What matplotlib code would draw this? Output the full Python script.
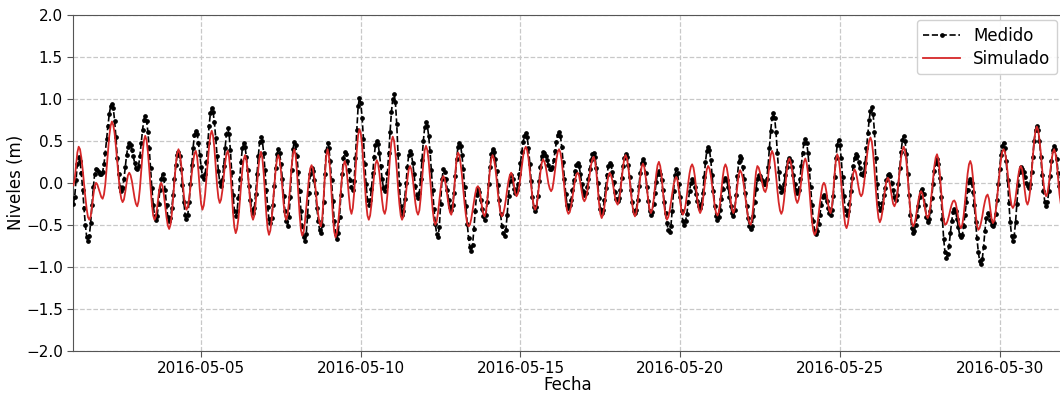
import matplotlib
matplotlib.use("Agg")
import matplotlib.pyplot as plt
import matplotlib.dates as mdates
import pandas as pd

# Hourly water levels (m), May 2016, starting 2016-05-01 00:00
medido = [
    -0.25, -0.17, 0.03, 0.23, 0.31, 0.26, 0.12, -0.08, -0.30, -0.50, -0.64, -0.69, -0.63, -0.48, -0.27, -0.05, 0.10, 0.16, 0.15, 0.13, 0.11, 0.10, 0.13, 0.22,
    0.36, 0.52, 0.68, 0.82, 0.91, 0.94, 0.89, 0.74, 0.54, 0.30, 0.10, -0.05, -0.10, -0.06, 0.04, 0.19, 0.33, 0.43, 0.47, 0.45, 0.39, 0.32, 0.24, 0.18,
    0.16, 0.20, 0.32, 0.48, 0.63, 0.75, 0.79, 0.74, 0.61, 0.41, 0.18, -0.06, -0.26, -0.39, -0.44, -0.39, -0.25, -0.09, 0.05, 0.10, 0.05, -0.09, -0.27, -0.41,
    -0.46, -0.42, -0.30, -0.14, 0.05, 0.21, 0.33, 0.37, 0.32, 0.17, -0.03, -0.23, -0.38, -0.43, -0.38, -0.23, -0.02, 0.21, 0.42, 0.57, 0.62, 0.58, 0.48, 0.33,
    0.19, 0.08, 0.04, 0.10, 0.25, 0.47, 0.68, 0.83, 0.89, 0.84, 0.72, 0.53, 0.32, 0.14, 0.01, -0.04, 0.03, 0.20, 0.41, 0.58, 0.65, 0.58, 0.39, 0.13,
    -0.14, -0.33, -0.40, -0.34, -0.18, 0.04, 0.25, 0.41, 0.47, 0.43, 0.31, 0.15, -0.04, -0.20, -0.32, -0.36, -0.30, -0.13, 0.10, 0.32, 0.49, 0.55, 0.50, 0.36,
    0.15, -0.08, -0.29, -0.43, -0.48, -0.42, -0.26, -0.04, 0.18, 0.34, 0.40, 0.35, 0.23, 0.05, -0.16, -0.34, -0.46, -0.51, -0.41, -0.17, 0.15, 0.40, 0.49, 0.45,
    0.32, 0.13, -0.10, -0.33, -0.52, -0.65, -0.69, -0.61, -0.39, -0.12, 0.10, 0.18, 0.14, 0.03, -0.12, -0.30, -0.45, -0.56, -0.60, -0.50, -0.23, 0.11, 0.38, 0.48,
    0.42, 0.26, 0.03, -0.22, -0.45, -0.61, -0.67, -0.60, -0.41, -0.15, 0.11, 0.30, 0.37, 0.34, 0.26, 0.15, 0.03, -0.05, -0.08, 0.02, 0.30, 0.63, 0.91, 1.01,
    0.95, 0.77, 0.52, 0.23, -0.02, -0.20, -0.26, -0.21, -0.07, 0.12, 0.31, 0.45, 0.50, 0.46, 0.35, 0.20, 0.05, -0.06, -0.10, -0.04, 0.12, 0.35, 0.61, 0.84,
    1.00, 1.06, 0.96, 0.70, 0.34, -0.02, -0.28, -0.38, -0.33, -0.19, 0.00, 0.19, 0.33, 0.38, 0.34, 0.24, 0.10, -0.04, -0.14, -0.18, -0.12, 0.05, 0.27, 0.50,
    0.66, 0.72, 0.68, 0.56, 0.38, 0.15, -0.08, -0.31, -0.49, -0.61, -0.65, -0.53, -0.25, 0.04, 0.16, 0.13, 0.04, -0.08, -0.20, -0.29, -0.32, -0.27, -0.12, 0.08,
    0.28, 0.43, 0.48, 0.44, 0.33, 0.16, -0.05, -0.28, -0.49, -0.66, -0.77, -0.81, -0.74, -0.55, -0.33, -0.14, -0.07, -0.11, -0.20, -0.31, -0.40, -0.44, -0.38, -0.23,
    -0.02, 0.19, 0.34, 0.40, 0.37, 0.28, 0.14, -0.03, -0.20, -0.37, -0.51, -0.60, -0.63, -0.56, -0.38, -0.16, 0.02, 0.09, 0.04, -0.07, -0.12, -0.09, -0.02, 0.10,
    0.24, 0.37, 0.49, 0.56, 0.59, 0.54, 0.42, 0.23, 0.02, -0.17, -0.29, -0.34, -0.29, -0.16, 0.02, 0.19, 0.32, 0.37, 0.36, 0.32, 0.27, 0.21, 0.17, 0.16,
    0.19, 0.27, 0.38, 0.49, 0.57, 0.60, 0.56, 0.43, 0.25, 0.05, -0.13, -0.26, -0.30, -0.27, -0.20, -0.09, 0.03, 0.14, 0.21, 0.24, 0.20, 0.11, -0.01, -0.10,
    -0.14, -0.12, -0.05, 0.05, 0.17, 0.27, 0.34, 0.36, 0.31, 0.18, 0.00, -0.18, -0.31, -0.36, -0.32, -0.21, -0.06, 0.09, 0.20, 0.24, 0.21, 0.13, 0.01, -0.11,
    -0.19, -0.22, -0.18, -0.08, 0.06, 0.20, 0.30, 0.34, 0.31, 0.21, 0.07, -0.09, -0.23, -0.33, -0.36, -0.32, -0.20, -0.04, 0.12, 0.24, 0.28, 0.24, 0.12, -0.05,
    -0.22, -0.34, -0.38, -0.35, -0.25, -0.12, 0.01, 0.11, 0.14, 0.11, 0.03, -0.09, -0.23, -0.36, -0.48, -0.56, -0.59, -0.52, -0.33, -0.10, 0.09, 0.16, 0.12, -0.01,
    -0.17, -0.34, -0.46, -0.50, -0.46, -0.37, -0.23, -0.10, 0.00, 0.04, 0.02, -0.05, -0.13, -0.22, -0.28, -0.30, -0.25, -0.12, 0.07, 0.25, 0.38, 0.43, 0.39, 0.27,
    0.09, -0.10, -0.28, -0.40, -0.44, -0.41, -0.32, -0.19, -0.07, 0.03, 0.06, 0.03, -0.05, -0.17, -0.28, -0.36, -0.39, -0.32, -0.15, 0.08, 0.25, 0.32, 0.29, 0.19,
    0.05, -0.12, -0.28, -0.42, -0.52, -0.55, -0.51, -0.39, -0.23, -0.07, 0.05, 0.09, 0.08, 0.05, 0.02, -0.01, -0.02, 0.04, 0.19, 0.41, 0.62, 0.77, 0.83, 0.77,
    0.60, 0.36, 0.13, -0.05, -0.11, -0.08, -0.01, 0.09, 0.19, 0.26, 0.29, 0.26, 0.19, 0.09, -0.02, -0.09, -0.12, -0.08, 0.04, 0.20, 0.36, 0.48, 0.52, 0.48,
    0.36, 0.17, -0.05, -0.26, -0.45, -0.57, -0.61, -0.58, -0.49, -0.38, -0.26, -0.17, -0.14, -0.16, -0.22, -0.30, -0.36, -0.38, -0.32, -0.16, 0.07, 0.29, 0.45, 0.51,
    0.45, 0.29, 0.07, -0.16, -0.32, -0.38, -0.34, -0.25, -0.10, 0.06, 0.20, 0.30, 0.34, 0.32, 0.25, 0.18, 0.11, 0.09, 0.13, 0.24, 0.41, 0.59, 0.75, 0.86,
    0.90, 0.82, 0.60, 0.29, -0.02, -0.24, -0.32, -0.30, -0.24, -0.15, -0.06, 0.03, 0.09, 0.11, 0.08, 0.00, -0.09, -0.17, -0.20, -0.15, -0.01, 0.18, 0.37, 0.51,
    0.56, 0.50, 0.34, 0.11, -0.15, -0.38, -0.54, -0.60, -0.57, -0.50, -0.39, -0.28, -0.17, -0.10, -0.07, -0.13, -0.27, -0.41, -0.47, -0.43, -0.33, -0.18, -0.01, 0.14,
    0.24, 0.28, 0.22, 0.06, -0.17, -0.43, -0.67, -0.83, -0.89, -0.85, -0.75, -0.60, -0.46, -0.35, -0.31, -0.34, -0.43, -0.53, -0.62, -0.65, -0.62, -0.52, -0.38, -0.23,
    -0.09, 0.01, 0.04, 0.00, -0.11, -0.27, -0.47, -0.66, -0.82, -0.93, -0.97, -0.91, -0.76, -0.57, -0.42, -0.36, -0.38, -0.44, -0.50, -0.52, -0.48, -0.37, -0.21, -0.02,
    0.17, 0.33, 0.44, 0.48, 0.42, 0.26, 0.03, -0.24, -0.47, -0.63, -0.69, -0.63, -0.47, -0.25, -0.03, 0.13, 0.19, 0.17, 0.13, 0.07, 0.00, -0.04, -0.06, -0.01,
    0.13, 0.31, 0.50, 0.63, 0.68, 0.63, 0.50, 0.31, 0.09, -0.10, -0.23, -0.28, -0.23, -0.10, 0.08, 0.26, 0.39, 0.44, 0.40, 0.28, 0.12, -0.04, -0.16, -0.20,
]

simulado = [
    -0.03, 0.04, 0.20, 0.36, 0.43, 0.40, 0.30, 0.16, -0.01, -0.17, -0.31, -0.41, -0.44, -0.40, -0.29, -0.15, -0.04, 0.00, -0.02, -0.07, -0.12, -0.17, -0.19, -0.14,
    -0.02, 0.17, 0.37, 0.56, 0.68, 0.73, 0.69, 0.59, 0.43, 0.25, 0.07, -0.09, -0.19, -0.23, -0.20, -0.11, 0.00, 0.09, 0.12, 0.09, 0.02, -0.08, -0.18, -0.25,
    -0.28, -0.22, -0.07, 0.14, 0.35, 0.50, 0.56, 0.51, 0.37, 0.17, -0.05, -0.25, -0.39, -0.44, -0.40, -0.29, -0.15, -0.04, 0.00, -0.04, -0.14, -0.28, -0.41, -0.51,
    -0.55, -0.50, -0.37, -0.18, 0.03, 0.22, 0.35, 0.40, 0.35, 0.22, 0.04, -0.14, -0.27, -0.32, -0.29, -0.19, -0.05, 0.11, 0.25, 0.35, 0.38, 0.31, 0.14, -0.08,
    -0.25, -0.32, -0.27, -0.14, 0.05, 0.25, 0.44, 0.57, 0.62, 0.56, 0.41, 0.19, -0.03, -0.18, -0.24, -0.20, -0.09, 0.07, 0.23, 0.34, 0.38, 0.31, 0.14, -0.11,
    -0.36, -0.53, -0.60, -0.55, -0.43, -0.24, -0.03, 0.16, 0.28, 0.33, 0.28, 0.14, -0.06, -0.25, -0.39, -0.44, -0.39, -0.24, -0.04, 0.17, 0.32, 0.37, 0.30, 0.12,
    -0.13, -0.37, -0.55, -0.62, -0.57, -0.44, -0.25, -0.04, 0.15, 0.28, 0.33, 0.28, 0.14, -0.06, -0.25, -0.39, -0.44, -0.38, -0.23, -0.02, 0.19, 0.34, 0.40, 0.33,
    0.14, -0.12, -0.37, -0.56, -0.63, -0.59, -0.47, -0.30, -0.12, 0.05, 0.17, 0.21, 0.17, 0.07, -0.07, -0.24, -0.38, -0.48, -0.52, -0.43, -0.20, 0.08, 0.31, 0.40,
    0.33, 0.14, -0.13, -0.39, -0.58, -0.65, -0.60, -0.48, -0.30, -0.09, 0.09, 0.21, 0.26, 0.20, 0.04, -0.15, -0.31, -0.37, -0.30, -0.12, 0.14, 0.39, 0.57, 0.64,
    0.59, 0.44, 0.22, -0.02, -0.24, -0.39, -0.44, -0.39, -0.26, -0.09, 0.09, 0.22, 0.27, 0.23, 0.11, -0.05, -0.21, -0.33, -0.37, -0.31, -0.14, 0.09, 0.32, 0.49,
    0.55, 0.50, 0.36, 0.17, -0.06, -0.25, -0.39, -0.44, -0.40, -0.28, -0.12, 0.04, 0.16, 0.20, 0.16, 0.06, -0.09, -0.24, -0.34, -0.38, -0.33, -0.18, 0.03, 0.24,
    0.39, 0.44, 0.39, 0.26, 0.07, -0.13, -0.32, -0.45, -0.50, -0.46, -0.36, -0.21, -0.07, 0.04, 0.08, 0.05, -0.04, -0.15, -0.27, -0.35, -0.38, -0.31, -0.13, 0.11,
    0.29, 0.36, 0.33, 0.23, 0.09, -0.08, -0.25, -0.39, -0.49, -0.52, -0.50, -0.43, -0.33, -0.23, -0.13, -0.06, -0.04, -0.07, -0.16, -0.28, -0.37, -0.40, -0.35, -0.22,
    -0.04, 0.15, 0.28, 0.33, 0.29, 0.19, 0.05, -0.12, -0.26, -0.36, -0.40, -0.37, -0.30, -0.20, -0.08, 0.02, 0.09, 0.12, 0.08, -0.02, -0.12, -0.16, -0.13, -0.05,
    0.07, 0.20, 0.32, 0.40, 0.43, 0.39, 0.29, 0.14, -0.03, -0.18, -0.28, -0.32, -0.28, -0.17, -0.02, 0.13, 0.24, 0.28, 0.25, 0.19, 0.09, -0.01, -0.07, -0.10,
    -0.07, 0.03, 0.15, 0.28, 0.37, 0.40, 0.36, 0.26, 0.10, -0.07, -0.23, -0.33, -0.37, -0.35, -0.28, -0.18, -0.07, 0.03, 0.10, 0.12, 0.09, 0.00, -0.10, -0.19,
    -0.22, -0.19, -0.12, -0.01, 0.10, 0.21, 0.28, 0.31, 0.26, 0.13, -0.06, -0.24, -0.37, -0.42, -0.38, -0.29, -0.15, -0.02, 0.08, 0.12, 0.09, 0.03, -0.07, -0.17,
    -0.23, -0.26, -0.22, -0.11, 0.04, 0.18, 0.29, 0.33, 0.29, 0.19, 0.05, -0.12, -0.26, -0.36, -0.40, -0.36, -0.24, -0.09, 0.07, 0.19, 0.23, 0.19, 0.08, -0.07,
    -0.21, -0.32, -0.36, -0.32, -0.21, -0.06, 0.10, 0.21, 0.25, 0.20, 0.08, -0.10, -0.27, -0.39, -0.44, -0.41, -0.34, -0.24, -0.13, -0.03, 0.04, 0.07, 0.03, -0.09,
    -0.22, -0.34, -0.38, -0.35, -0.27, -0.15, -0.01, 0.11, 0.19, 0.22, 0.18, 0.08, -0.07, -0.22, -0.32, -0.36, -0.32, -0.22, -0.08, 0.06, 0.16, 0.20, 0.17, 0.09,
    -0.03, -0.16, -0.28, -0.36, -0.39, -0.35, -0.24, -0.09, 0.07, 0.18, 0.22, 0.18, 0.08, -0.07, -0.22, -0.32, -0.36, -0.31, -0.18, -0.03, 0.10, 0.15, 0.12, 0.06,
    -0.05, -0.18, -0.30, -0.41, -0.48, -0.50, -0.43, -0.26, -0.04, 0.13, 0.20, 0.18, 0.12, 0.05, -0.03, -0.09, -0.11, -0.06, 0.06, 0.21, 0.33, 0.38, 0.34, 0.24,
    0.09, -0.08, -0.23, -0.33, -0.37, -0.33, -0.21, -0.04, 0.13, 0.25, 0.29, 0.25, 0.16, 0.03, -0.11, -0.20, -0.24, -0.20, -0.11, 0.03, 0.16, 0.25, 0.29, 0.24,
    0.12, -0.06, -0.27, -0.45, -0.57, -0.62, -0.59, -0.50, -0.38, -0.24, -0.12, -0.03, 0.00, -0.03, -0.12, -0.24, -0.33, -0.36, -0.29, -0.12, 0.10, 0.27, 0.34, 0.30,
    0.17, 0.00, -0.20, -0.37, -0.50, -0.54, -0.49, -0.37, -0.19, -0.02, 0.11, 0.16, 0.13, 0.05, -0.05, -0.13, -0.16, -0.13, -0.03, 0.11, 0.27, 0.41, 0.50, 0.54,
    0.49, 0.35, 0.15, -0.08, -0.28, -0.42, -0.47, -0.43, -0.34, -0.21, -0.07, 0.02, 0.06, 0.03, -0.06, -0.16, -0.25, -0.28, -0.24, -0.15, 0.00, 0.15, 0.30, 0.39,
    0.43, 0.38, 0.25, 0.06, -0.15, -0.34, -0.47, -0.52, -0.49, -0.42, -0.31, -0.21, -0.13, -0.10, -0.13, -0.21, -0.31, -0.39, -0.42, -0.38, -0.28, -0.12, 0.04, 0.20,
    0.30, 0.34, 0.28, 0.13, -0.08, -0.29, -0.44, -0.50, -0.49, -0.45, -0.39, -0.32, -0.26, -0.22, -0.21, -0.24, -0.32, -0.43, -0.51, -0.54, -0.50, -0.39, -0.23, -0.05,
    0.11, 0.22, 0.26, 0.21, 0.06, -0.15, -0.36, -0.51, -0.56, -0.54, -0.48, -0.40, -0.30, -0.22, -0.16, -0.14, -0.19, -0.31, -0.43, -0.48, -0.45, -0.35, -0.21, -0.04,
    0.13, 0.27, 0.37, 0.40, 0.37, 0.27, 0.13, -0.03, -0.17, -0.27, -0.30, -0.27, -0.18, -0.05, 0.08, 0.17, 0.20, 0.16, 0.04, -0.10, -0.22, -0.26, -0.21, -0.09,
    0.10, 0.31, 0.50, 0.62, 0.67, 0.63, 0.51, 0.35, 0.16, 0.00, -0.12, -0.16, -0.12, -0.02, 0.12, 0.26, 0.36, 0.40, 0.35, 0.23, 0.05, -0.13, -0.25, -0.30,
]

fechas = pd.date_range("2016-05-01 00:00", periods=len(medido), freq="h")
tick_fechas = pd.to_datetime(["2016-05-05", "2016-05-10", "2016-05-15",
                              "2016-05-20", "2016-05-25", "2016-05-30"])
y_ticks = [-2.0, -1.5, -1.0, -0.5, 0.0, 0.5, 1.0, 1.5, 2.0]

fig = plt.figure(figsize=(10.6, 3.95), dpi=100)
ax = fig.add_axes([0.0692, 0.1122, 0.9328, 0.8500])

ax.plot(fechas, medido, color="black", linestyle="--", linewidth=1.2,
        marker="o", markersize=2.4, label="Medido", zorder=3)
ax.plot(fechas, simulado, color="#d62728", linestyle="-", linewidth=1.3,
        label="Simulado", zorder=4)

ax.set_xlim(pd.Timestamp("2016-05-01 00:00"), pd.Timestamp("2016-05-31 23:00"))
ax.set_ylim(-2.0, 2.0)
ax.set_yticks(y_ticks)
ax.set_xticks(tick_fechas)
ax.xaxis.set_major_formatter(mdates.DateFormatter("%Y-%m-%d"))
ax.tick_params(axis="both", labelsize=11, length=4, color="#555555")

ax.grid(True, linestyle="--", color="#c8c8c8", linewidth=0.9)
ax.set_axisbelow(True)
for side in ("left", "bottom", "top"):
    ax.spines[side].set_color("#555555")
ax.spines["right"].set_visible(False)

ax.set_xlabel("Fecha", fontsize=12, labelpad=0)
ax.set_ylabel("Niveles (m)", fontsize=12, labelpad=1)

ax.legend(loc="upper right", fontsize=12, framealpha=0.9,
          edgecolor="#cccccc", handlelength=2.2, borderaxespad=0.3,
          labelspacing=0.3)

fig.savefig("out.png", dpi=100)
